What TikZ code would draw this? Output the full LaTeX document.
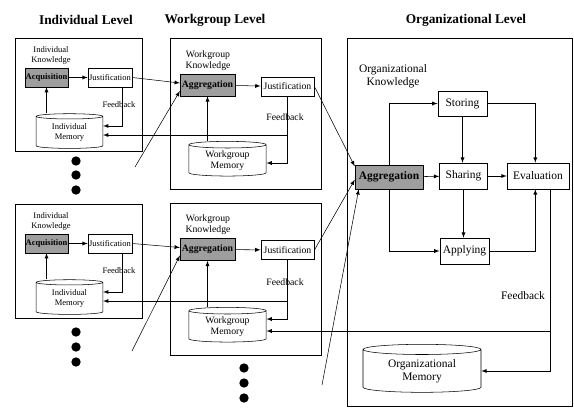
\documentclass[tikz,border=0pt]{standalone}
\usepackage{fontspec}
\setmainfont{Liberation Serif}
\usetikzlibrary{shapes.geometric}

\tikzset{
	lvltitle/.style={font=\bfseries\fontsize{10}{12}\selectfont},
	lvlbox/.style={line width=0.5pt},
	indtext/.style={font=\fontsize{6.4}{7.4}\selectfont, align=center, inner sep=0pt},
	wgtext/.style={font=\fontsize{7.3}{8.4}\selectfont, align=center, inner sep=0pt},
	orgtext/.style={font=\fontsize{8.6}{10}\selectfont, align=center, inner sep=0pt},
	procbox/.style={draw, fill=white, inner sep=0pt},
	hatchbox/.style={draw, fill=black!38, inner sep=0pt},
	membox/.style={draw, fill=white, cylinder, shape border rotate=90, aspect=0.15, inner sep=0pt},
	bigdot/.style={circle, fill, inner sep=0pt, minimum size=7pt}
}

\begin{document}
\begin{tikzpicture}[x=0.75pt, y=-0.75pt, >=latex]
	\fill [white] (0, 0) rectangle (574, 410);
	\useasboundingbox (0, 0) rectangle (574, 410);

	\node [lvltitle] (indtitle) at (86, 20) {Individual Level};
	\node [lvltitle] (wgtitle) at (215, 20) {Workgroup Level};
	\node [lvltitle] (orgtitle) at (466, 20) {Organizational Level};

	\draw [lvlbox] (15, 38) rectangle (142, 151);
	\draw [lvlbox] (15, 204) rectangle (142, 318);
	\draw [lvlbox] (170, 38) rectangle (321, 189);
	\draw [lvlbox] (170, 203) rectangle (321, 355);
	\draw [lvlbox] (347, 38) rectangle (572, 406);

	\node [indtext] (indk1) at (51, 55.5) {Individual\\Knowledge};
	\node [hatchbox, indtext, font=\bfseries\fontsize{6.4}{7.4}\selectfont, minimum width=32pt, minimum height=14pt] (acq1) at (46.5, 77.5) {Acquisition};
	\node [procbox, indtext, minimum width=33pt, minimum height=14pt] (just1) at (110, 77.5) {Justification};
	\node [indtext] (fbind1) at (119, 105) {Feedback};
	\node [membox, indtext, minimum width=50pt, minimum height=26pt] (mem1) at (69.5, 132.5) {Individual\\Memory};

	\node [indtext] (indk2) at (51, 221.5) {Individual\\Knowledge};
	\node [hatchbox, indtext, font=\bfseries\fontsize{6.4}{7.4}\selectfont, minimum width=32pt, minimum height=14pt] (acq2) at (46.5, 243.5) {Acquisition};
	\node [procbox, indtext, minimum width=33pt, minimum height=14pt] (just2) at (110, 243.5) {Justification};
	\node [indtext] (fbind2) at (119, 271) {Feedback};
	\node [membox, indtext, minimum width=50pt, minimum height=26pt] (mem2) at (69.5, 298.5) {Individual\\Memory};

	\node [wgtext] (wgk1) at (208, 60.5) {Workgroup\\Knowledge};
	\node [hatchbox, wgtext, font=\bfseries\fontsize{7.3}{8.4}\selectfont, minimum width=41pt, minimum height=16.5pt] (agg1) at (207.5, 85) {Aggregation};
	\node [procbox, wgtext, minimum width=40pt, minimum height=14.5pt] (wjust1) at (287.5, 86.5) {Justification};
	\node [wgtext] (fbwg1) at (285, 117) {Feedback};
	\node [membox, wgtext, minimum width=58pt, minimum height=26pt] (wmem1) at (227.5, 160.5) {Workgroup\\Memory};

	\node [wgtext] (wgk2) at (208, 225) {Workgroup\\Knowledge};
	\node [hatchbox, wgtext, font=\bfseries\fontsize{7.3}{8.4}\selectfont, minimum width=41pt, minimum height=16.5pt] (agg2) at (207.5, 249.5) {Aggregation};
	\node [procbox, wgtext, minimum width=40pt, minimum height=14.5pt] (wjust2) at (287.5, 250) {Justification};
	\node [wgtext] (fbwg2) at (285, 282) {Feedback};
	\node [membox, wgtext, minimum width=58pt, minimum height=26pt] (wmem2) at (227.5, 326.5) {Workgroup\\Memory};

	\node [orgtext] (orgk) at (393, 76) {Organizational\\Knowledge};
	\node [hatchbox, orgtext, font=\bfseries\fontsize{8.6}{10}\selectfont, minimum width=51pt, minimum height=18pt] (oagg) at (389, 177) {Aggregation};
	\node [procbox, orgtext, minimum width=37pt, minimum height=19pt] (storing) at (462.5, 103.5) {Storing};
	\node [procbox, orgtext, minimum width=36pt, minimum height=19.5pt] (sharing) at (463.5, 176) {Sharing};
	\node [procbox, orgtext, minimum width=46.5pt, minimum height=19.5pt] (eval) at (538, 176) {Evaluation};
	\node [procbox, orgtext, minimum width=37pt, minimum height=19.5pt] (applying) at (464.5, 251) {Applying};
	\node [orgtext] (fborg) at (523, 296) {Feedback};
	\node [membox, orgtext, minimum width=88.5pt, minimum height=36pt] (omem) at (422, 371) {Organizational\\Memory};

	\foreach \y [count=\i] in {161, 175, 190}
		\node [bigdot] (inddotA\i) at (76, \y) {};
	\foreach \y [count=\i] in {332, 347, 362}
		\node [bigdot] (inddotB\i) at (76, \y) {};
	\foreach \y [count=\i] in {368, 383, 398}
		\node [bigdot] (wgdot\i) at (244, \y) {};

	\coordinate (indmore1) at (135, 167);
	\coordinate (indmore2) at (132, 351);
	\coordinate (wgmore) at (322, 385);
	\coordinate (mem1wg) at ([yshift=-1.9pt]mem1.east);
	\coordinate (mem2wg) at ([yshift=-1.9pt]mem2.east);
	\coordinate (wmem2org) at ([yshift=-3.4pt]wmem2.east);
	\coordinate (evalfb) at ([xshift=9pt]eval.south);

	\draw [->] (acq1) -- (just1);
	\draw [->] (mem1.north -| acq1) -- (acq1);
	\draw [->] ([xshift=9pt]just1.south) |- ([yshift=4.9pt]mem1.east);
	\draw [->] (acq2) -- (just2);
	\draw [->] (mem2.north -| acq2) -- (acq2);
	\draw [->] ([xshift=9pt]just2.south) |- ([yshift=4.9pt]mem2.east);

	\draw [->] (just1.east) -- ([yshift=1.5pt]agg1.west);
	\draw [->] (indmore1) -- ([yshift=-4.5pt]agg1.west);
	\draw [->] (agg1) -- (wjust1);
	\draw [->] (wmem1.north -| agg1) -- (agg1);
	\draw [->] (wjust1.south) |- ([yshift=-1.9pt]wmem1.east);
	\draw [->] (wjust1.south |- mem1wg) -- (mem1wg);

	\draw [->] (just2.east) -- ([yshift=1.5pt]agg2.west);
	\draw [->] (indmore2) -- ([yshift=-4.5pt]agg2.west);
	\draw [->] (agg2) -- (wjust2);
	\draw [->] (wmem2.north -| agg2) -- (agg2);
	\draw [->] (wjust2.south) |- ([yshift=5.6pt]wmem2.east);
	\draw [->] (wjust2.south |- mem2wg) -- (mem2wg);

	\draw [->] (wjust1.east) -- ([yshift=8pt]oagg.west);
	\draw [->] (wjust2.east) -- ([yshift=-2pt]oagg.west);
	\draw [->] (wgmore) -- ([xshift=3pt]oagg.south west);
	\draw [->] (oagg) -- (sharing);
	\draw [->] (sharing) -- (eval);
	\draw [->] (oagg.north) |- (storing);
	\draw [->] (storing.south) -- (storing.south |- sharing.north);
	\draw [->] (storing) -| ([xshift=-2pt]eval.north);
	\draw [->] (oagg.south) |- (applying);
	\draw [->] (sharing.south) -- (sharing.south |- applying.north);
	\draw [->] (applying) -| ([xshift=-2pt]eval.south);
	\draw [->] (evalfb) |- (omem);
	\draw [->] (evalfb |- wmem2org) -- (wmem2org);
\end{tikzpicture}
\end{document}
